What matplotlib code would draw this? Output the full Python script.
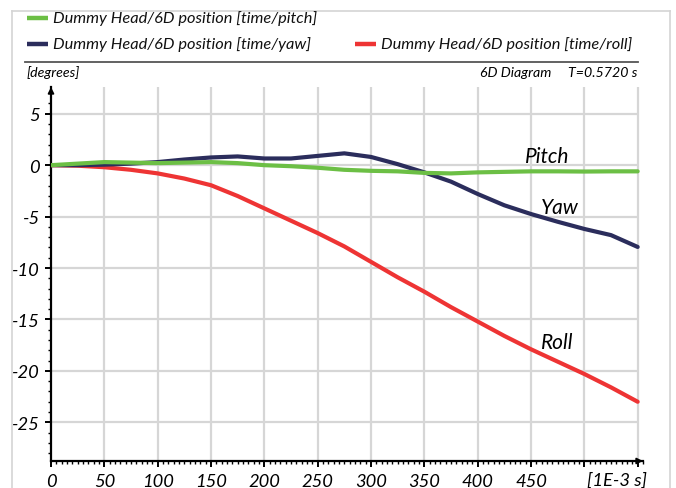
import matplotlib
matplotlib.use("Agg")
import matplotlib.pyplot as plt
from matplotlib.lines import Line2D
from matplotlib.ticker import MultipleLocator, FixedLocator

plt.rcParams['font.family'] = ['Lato', 'DejaVu Sans']
plt.rcParams['axes.unicode_minus'] = False

# time in 1E-3 s
time_ms = [0, 25, 50, 75, 100, 125, 150, 175, 200, 225, 250, 275, 300,
           325, 350, 375, 400, 425, 450, 475, 500, 525, 550]
pitch = [0, 0.15, 0.3, 0.25, 0.2, 0.25, 0.3, 0.2, 0.0, -0.1, -0.25, -0.45, -0.55,
         -0.6, -0.75, -0.8, -0.7, -0.65, -0.6, -0.6, -0.62, -0.6, -0.6]
yaw = [0, 0.0, 0.05, 0.15, 0.3, 0.55, 0.75, 0.85, 0.65, 0.65, 0.9, 1.15, 0.8,
       0.1, -0.7, -1.6, -2.8, -3.9, -4.75, -5.5, -6.2, -6.8, -7.95]
roll = [0, -0.05, -0.2, -0.45, -0.8, -1.3, -1.95, -3.0, -4.2, -5.4, -6.6, -7.9, -9.4,
        -10.9, -12.3, -13.8, -15.2, -16.6, -17.9, -19.1, -20.3, -21.6, -23.0]

x_ticks = [0, 50, 100, 150, 200, 250, 300, 350, 400, 450]
x_grid = [50, 100, 150, 200, 250, 300, 350, 400, 450, 500, 550]
y_ticks = [5, 0, -5, -10, -15, -20, -25]

series_names = ["Dummy Head/6D position [time/pitch]",
                "Dummy Head/6D position [time/yaw]",
                "Dummy Head/6D position [time/roll]"]
colors = ["#6cbf45", "#2b2d5c", "#ee3434"]

W, H = 676, 489
fig = plt.figure(figsize=(W / 100, H / 100), dpi=100)

def fx(px):
    return px / W

def fy(py):
    return 1 - py / H

# outer frame
frame_col = "#d4d4d4"
fig.add_artist(Line2D([fx(12), fx(12)], [fy(12), 0], color=frame_col, lw=1.2))
fig.add_artist(Line2D([fx(12), fx(670)], [fy(12), fy(12)], color=frame_col, lw=1.2))
fig.add_artist(Line2D([fx(670), fx(670)], [fy(12), 0], color=frame_col, lw=1.2))

# legend
leg_items = [(27, 19, 0), (27, 45, 1), (355, 45, 2)]
for px, py, i in leg_items:
    fig.add_artist(Line2D([fx(px), fx(px + 21)], [fy(py), fy(py)],
                          color=colors[i], lw=3.2, solid_capstyle='butt'))
    fig.text(fx(px + 26), fy(py), series_names[i], fontsize=11.8, style='italic',
             va='center', ha='left', color='#111111')

# separator and header texts
fig.add_artist(Line2D([fx(25), fx(638)], [fy(63), fy(63)], color="#555555", lw=1.3))
fig.text(fx(27), fy(73), "[degrees]", fontsize=10.2, style='italic', va='center', ha='left')
fig.text(fx(551), fy(73), "6D Diagram", fontsize=10.2, style='italic', va='center', ha='right')
fig.text(fx(637), fy(73), "T=0.5720 s", fontsize=10.2, style='italic', va='center', ha='right')

# plot area
x0, x1 = 51, 643
ytop, ybot = 88, 462
ax = fig.add_axes([fx(x0), fy(ybot), (x1 - x0) / W, (ybot - ytop) / H])
xmin, xmax = 0, 555
ymin, ymax = -28.76, 7.6
ax.set_xlim(xmin, xmax)
ax.set_ylim(ymin, ymax)
ax.patch.set_alpha(0)

grid_col = "#d6d6d6"
ax.vlines(x_grid, ymin, ymax, colors=grid_col, lw=1.6, zorder=0)
ax.hlines(y_ticks, 0, 550, colors=grid_col, lw=1.6, zorder=0)

line_kw = dict(lw=3.0, solid_capstyle='round', solid_joinstyle='round')
ax.plot(time_ms, roll, color=colors[2], zorder=3, **line_kw)
ax.plot(time_ms, yaw, color=colors[1], zorder=3, **line_kw)
ax.plot(time_ms, pitch, color=colors[0], zorder=4, **line_kw)

ax.text(465, 0.9, "Pitch", fontsize=15, style='italic', ha='center', va='center')
ax.text(477, -4.1, "Yaw", fontsize=15, style='italic', ha='center', va='center')
ax.text(475, -17.2, "Roll", fontsize=15, style='italic', ha='center', va='center')

for s in ['top', 'right']:
    ax.spines[s].set_visible(False)
for s in ['left', 'bottom']:
    ax.spines[s].set_linewidth(1.6)
    ax.spines[s].set_color('black')

# axis arrows
ax.annotate('', xy=(1.0, 0), xytext=(0.98, 0), xycoords='axes fraction',
            arrowprops=dict(arrowstyle='-|>', color='black', lw=1.2,
                            mutation_scale=9, shrinkA=0, shrinkB=0))
ax.annotate('', xy=(0, 1.0), xytext=(0, 0.97), xycoords='axes fraction',
            arrowprops=dict(arrowstyle='-|>', color='black', lw=1.2,
                            mutation_scale=9, shrinkA=0, shrinkB=0))

ax.xaxis.set_major_locator(FixedLocator(x_ticks + [500, 550]))
ax.xaxis.set_minor_locator(MultipleLocator(5))
ax.yaxis.set_major_locator(FixedLocator(y_ticks))
ax.yaxis.set_minor_locator(MultipleLocator(1))
ax.set_xticklabels([str(v) for v in x_ticks] + ["", ""])
ax.set_yticklabels([str(v) for v in y_ticks])
ax.tick_params(axis='both', which='major', length=4, width=1.4, direction='out',
               labelsize=13.2)
ax.tick_params(axis='x', which='major', pad=5)
ax.tick_params(axis='y', which='major', pad=4)
ax.tick_params(axis='both', which='minor', length=2.5, width=1.0, direction='out')
for lab in ax.get_xticklabels() + ax.get_yticklabels():
    lab.set_fontstyle('italic')

# unit label of the time axis, sitting with the tick labels
ax.annotate("[1E-3 s]", xy=(531, ymin), xycoords='data', xytext=(0, -7.5),
            textcoords='offset points', fontsize=13.2, style='italic',
            ha='center', va='top')

fig.savefig("out.png", dpi=100)
